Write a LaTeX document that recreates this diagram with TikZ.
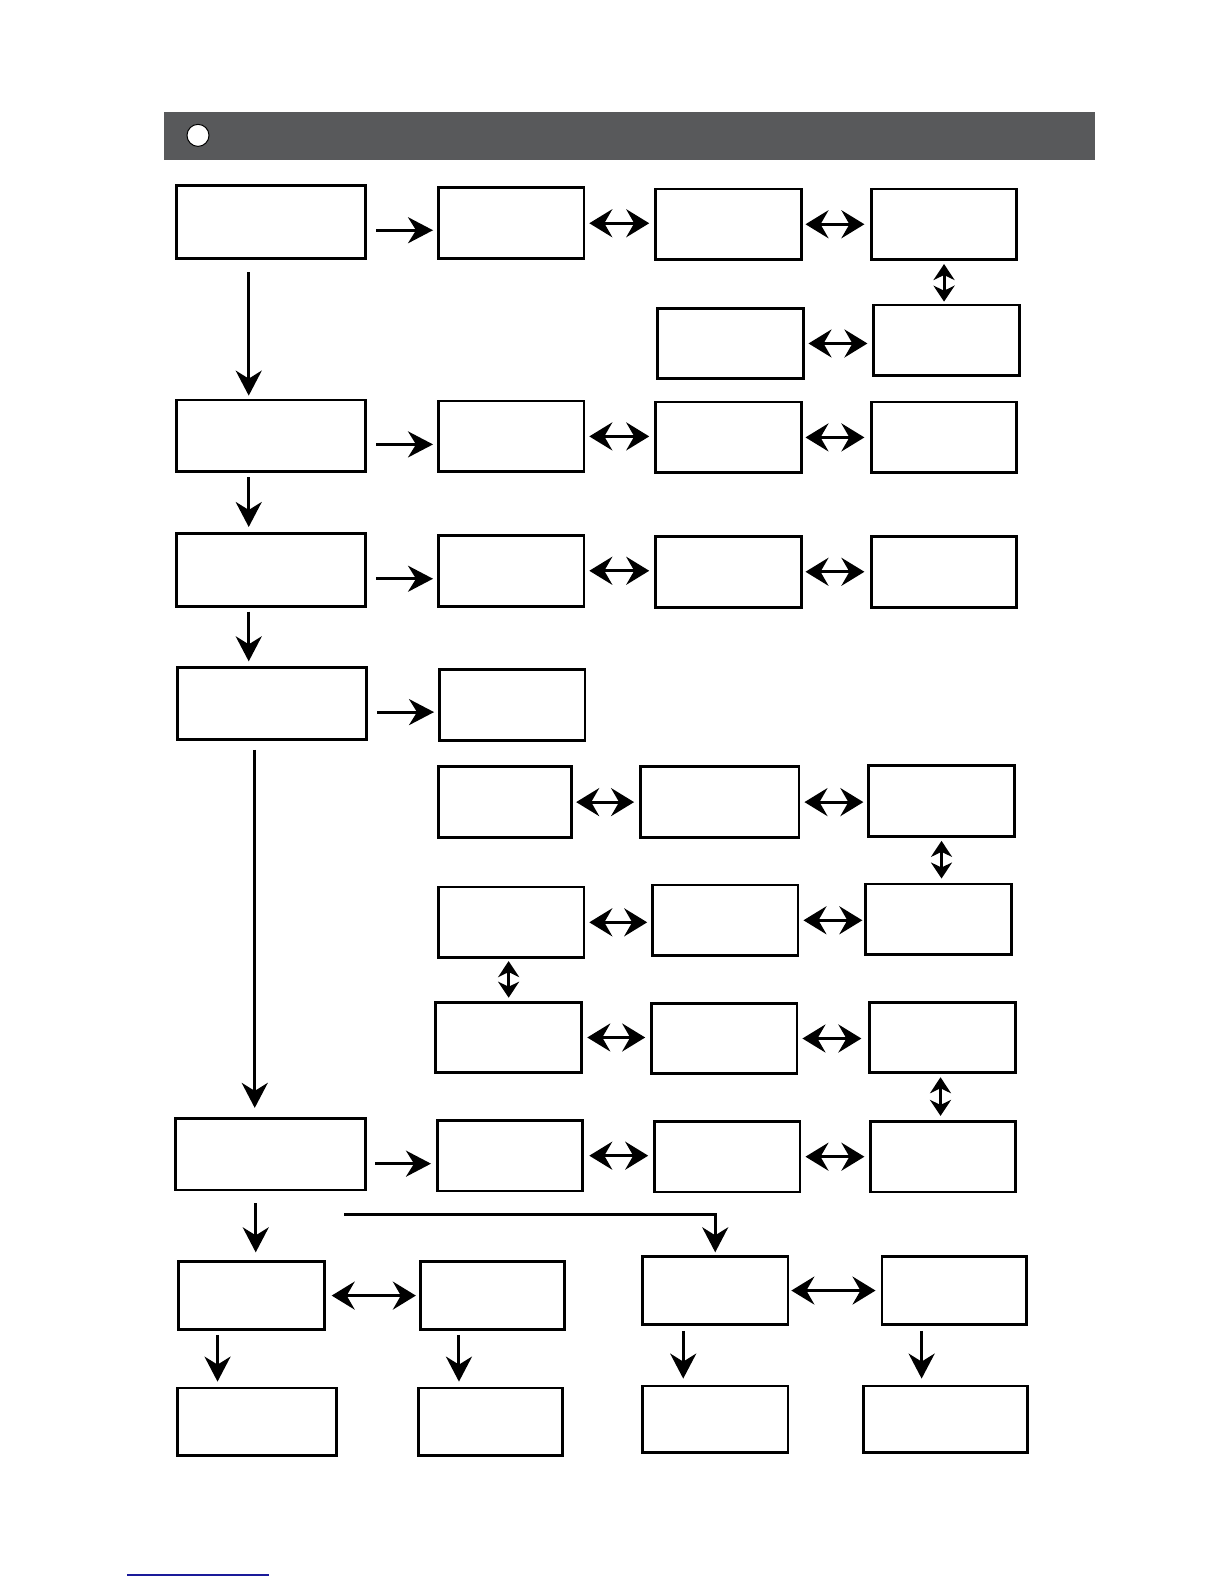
\documentclass[tikz,border=0pt]{standalone}
\usetikzlibrary{arrows.meta,fit}
\definecolor{hdr}{HTML}{58595B}
\definecolor{ulink}{HTML}{1A1A9A}
\tikzset{
  box/.style={draw=black, line width=2.8pt, fill=white, inner sep=0pt},
  arr/.style={line width=3pt, -{Stealth[length=25pt,width=26pt,inset=8pt]}},
  darr/.style={line width=3pt, {Stealth[length=23pt,width=28pt,inset=8pt]}-{Stealth[length=23pt,width=28pt,inset=8pt]}},
  vdarr/.style={line width=3pt, {Stealth[length=16pt,width=21pt,inset=5pt]}-{Stealth[length=16pt,width=21pt,inset=5pt]}}
}
\newcommand\mybox[5]{\node[box, fit={(#2,#3)(#4,#5)}] (#1) {};}
\begin{document}
\begin{tikzpicture}[x=1.0099pt,y=-1.0099pt]
\useasboundingbox (0,0) rectangle (1212,1568);
% header
\fill[hdr] (162,111) rectangle (1084,158);
\node[circle, draw=black, fill=white, line width=1pt, minimum size=22pt, inner sep=0pt] (dot) at (196,134) {};
% boxes
\mybox{A1}{175}{184}{362}{256}
\mybox{B1}{434}{186}{578}{256}
\mybox{C1}{649}{187}{793}{257}
\mybox{D1}{863}{187}{1006}{257}
\mybox{E}{651}{305}{795}{375}
\mybox{F}{865}{302}{1009}{372}
\mybox{A2}{175}{396}{362}{467}
\mybox{B2}{434}{397}{578}{467}
\mybox{C2}{649}{398}{793}{468}
\mybox{D2}{863}{398}{1006}{468}
\mybox{A3}{175}{528}{362}{600}
\mybox{B3}{434}{530}{578}{600}
\mybox{C3}{649}{531}{793}{601}
\mybox{D3}{863}{531}{1006}{601}
\mybox{A4}{176}{661}{363}{732}
\mybox{B4}{435}{663}{579}{733}
\mybox{G1}{434}{759}{566}{829}
\mybox{G2}{634}{759}{791}{829}
\mybox{G3}{860}{758}{1004}{828}
\mybox{H1}{434}{878}{578}{948}
\mybox{H2}{646}{876}{790}{946}
\mybox{H3}{857}{875}{1001}{945}
\mybox{I1}{431}{992}{576}{1062}
\mybox{I2}{645}{993}{789}{1063}
\mybox{I3}{861}{992}{1005}{1062}
\mybox{A5}{174}{1107}{362}{1178}
\mybox{B5}{433}{1109}{577}{1179}
\mybox{C5}{648}{1110}{792}{1180}
\mybox{D5}{862}{1110}{1005}{1180}
\mybox{J1}{177}{1249}{321}{1316}
\mybox{J2}{416}{1249}{559}{1316}
\mybox{K1}{636}{1244}{780}{1311}
\mybox{K2}{873}{1244}{1016}{1311}
\mybox{L1}{176}{1374}{333}{1441}
\mybox{L2}{414}{1374}{557}{1441}
\mybox{L3}{636}{1372}{780}{1438}
\mybox{L4}{855}{1372}{1017}{1438}
% A -> B arrows
\draw[arr, shorten <=9pt, shorten >=4pt] ([yshift=-8pt]A1.east) -- ([yshift=-8pt]A1.east -| B1.west);
\draw[arr, shorten <=9pt, shorten >=4pt] ([yshift=-8.5pt]A2.east) -- ([yshift=-8.5pt]A2.east -| B2.west);
\draw[arr, shorten <=9pt, shorten >=4pt] ([yshift=-9pt]A3.east) -- ([yshift=-9pt]A3.east -| B3.west);
\draw[arr, shorten <=9pt, shorten >=4pt] ([yshift=-8.5pt]A4.east) -- ([yshift=-8.5pt]A4.east -| B4.west);
\draw[arr, shorten <=8pt, shorten >=5pt] ([yshift=-9.5pt]A5.east) -- ([yshift=-9.5pt]A5.east -| B5.west);
% A vertical chain
\draw[arr, shorten <=12pt, shorten >=3pt] ([xshift=-22.5pt]A1.south) -- ([xshift=-22.5pt]A1.south |- A2.north);
\draw[arr, shorten <=4pt, shorten >=5pt] ([xshift=-22.5pt]A2.south) -- ([xshift=-22.5pt]A2.south |- A3.north);
\draw[arr, shorten <=4pt, shorten >=5pt] ([xshift=-22.5pt]A3.south) -- ([xshift=-22.5pt]A3.south |- A4.north);
\draw[arr, shorten <=9pt, shorten >=9pt] ([xshift=-17.5pt]A4.south) -- ([xshift=-17.5pt]A4.south |- A5.north);
\draw[arr, shorten <=12pt, shorten >=8pt] ([xshift=-15pt]A5.south) -- ([xshift=-15pt]A5.south |- J1.north);
% row double arrows
\draw[darr, shorten <=4pt, shorten >=5pt] (B1.east) -- (B1.east -| C1.west);
\draw[darr, shorten <=3pt, shorten >=6pt] (C1.east) -- (C1.east -| D1.west);
\draw[vdarr, shorten <=3pt, shorten >=2pt] (D1.south) -- (D1.south |- F.north);
\draw[darr, shorten <=4pt, shorten >=5pt] (E.east) -- (E.east -| F.west);
\draw[darr, shorten <=4pt, shorten >=5pt] (B2.east) -- (B2.east -| C2.west);
\draw[darr, shorten <=3pt, shorten >=6pt] (C2.east) -- (C2.east -| D2.west);
\draw[darr, shorten <=4pt, shorten >=5pt] (B3.east) -- (B3.east -| C3.west);
\draw[darr, shorten <=3pt, shorten >=6pt] (C3.east) -- (C3.east -| D3.west);
\draw[darr, shorten <=3pt, shorten >=5pt] (G1.east) -- (G1.east -| G2.west);
\draw[darr, shorten <=4pt, shorten >=4pt] (G2.east) -- (G2.east -| G3.west);
\draw[vdarr, shorten <=3pt, shorten >=4pt] (G3.south) -- (G3.south |- H3.north);
\draw[darr, shorten <=4pt, shorten >=4pt] (H1.east) -- (H1.east -| H2.west);
\draw[darr, shorten <=4pt, shorten >=2pt] (H2.east) -- (H2.east -| H3.west);
\draw[vdarr, shorten <=2pt, shorten >=3pt] (I1.north |- H1.south) -- (I1.north);
\draw[darr, shorten <=4pt, shorten >=5pt] (I1.east) -- (I1.east -| I2.west);
\draw[darr, shorten <=4pt, shorten >=7pt] (I2.east) -- (I2.east -| I3.west);
\draw[vdarr, shorten <=3pt, shorten >=4pt] ([xshift=-2pt]I3.south) -- ([xshift=-2pt]I3.south |- D5.north);
\draw[darr, shorten <=5pt, shorten >=5pt] (B5.east) -- (B5.east -| C5.west);
\draw[darr, shorten <=4pt, shorten >=5pt] (C5.east) -- (C5.east -| D5.west);
% bottom section
\coordinate (e0) at (341,1202);
\draw[arr, shorten >=3pt] (e0) -| (K1.north);
\draw[darr, shorten <=6pt, shorten >=3pt] (J1.east) -- (J1.east -| J2.west);
\draw[darr, shorten <=2pt, shorten >=5pt] (K1.east) -- (K1.east -| K2.west);
\draw[arr, shorten <=4pt, shorten >=5pt] ([xshift=-34pt]J1.south) -- ([xshift=-34pt]J1.south |- L1.north);
\draw[arr, shorten <=4pt, shorten >=5pt] ([xshift=-33.5pt]J2.south) -- ([xshift=-33.5pt]J2.south |- L2.north);
\draw[arr, shorten <=5pt, shorten >=6pt] ([xshift=-32pt]K1.south) -- ([xshift=-32pt]K1.south |- L3.north);
\draw[arr, shorten <=5pt, shorten >=6pt] ([xshift=-32.5pt]K2.south) -- ([xshift=-32.5pt]K2.south |- L4.north);
% footer rule
\draw[ulink, line width=1.5pt] (126,1559) -- (266,1559);
\end{tikzpicture}
\end{document}
